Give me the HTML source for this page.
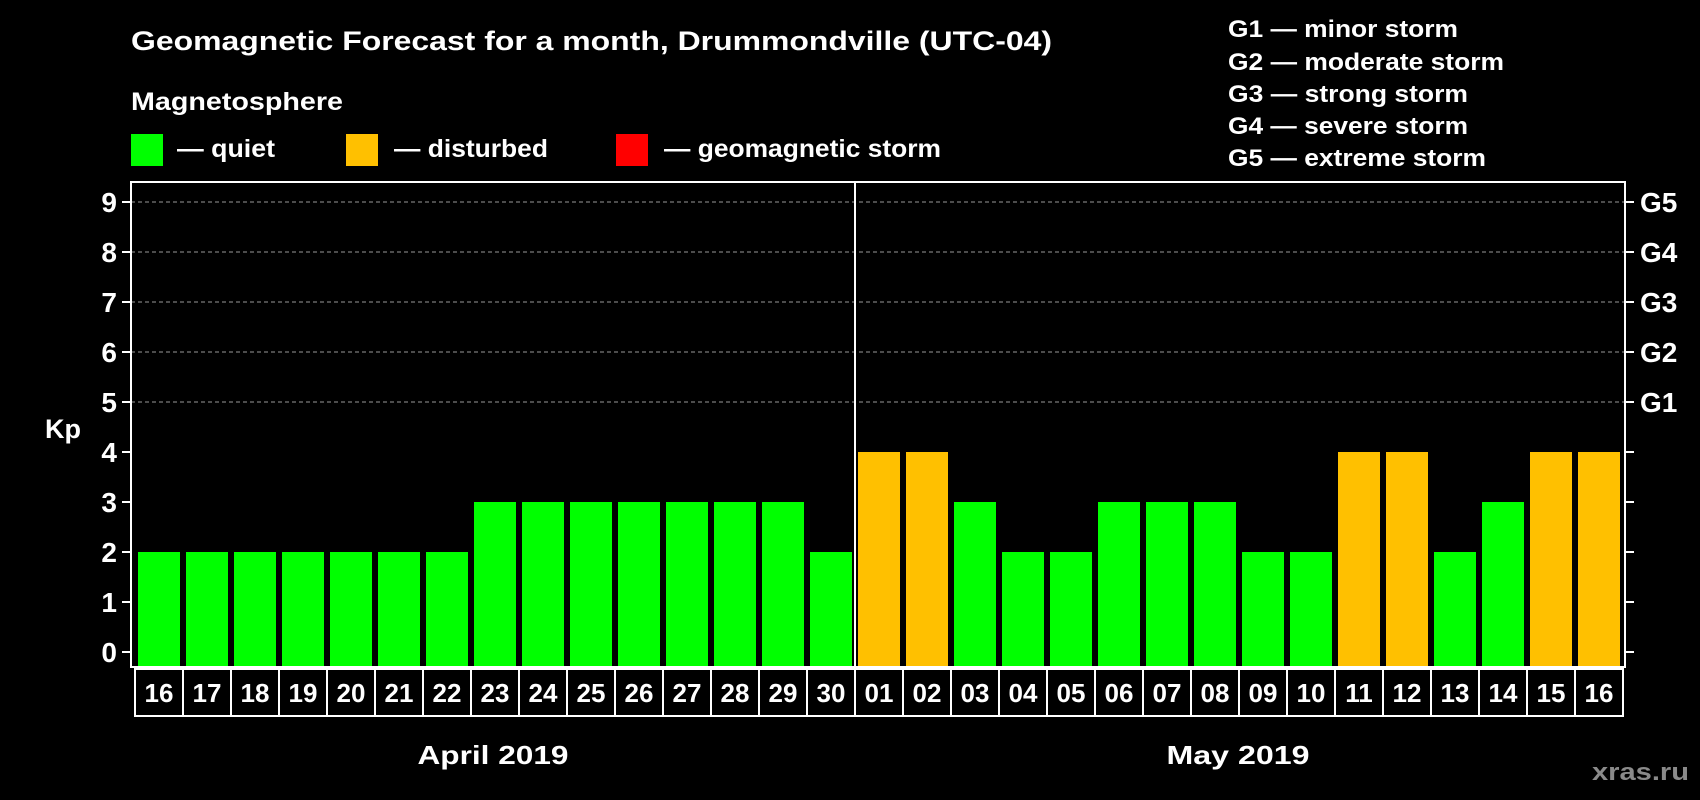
<!DOCTYPE html>
<html><head><meta charset="utf-8"><style>
html,body{margin:0;padding:0;background:#000;}
svg{display:block;font-family:"Liberation Sans",sans-serif;font-weight:bold;}
</style></head><body>
<svg id="chart" width="1700" height="800" viewBox="0 0 1700 800">
<rect x="0" y="0" width="1700" height="800" fill="#000"/>
<text x="131" y="50" font-size="27" fill="#fff" textLength="921" lengthAdjust="spacingAndGlyphs">Geomagnetic Forecast for a month, Drummondville (UTC-04)</text>
<text x="131" y="110" font-size="25" fill="#fff" textLength="212" lengthAdjust="spacingAndGlyphs">Magnetosphere</text>
<g>
<rect x="131" y="134" width="32" height="32" fill="#00ff00"/>
<text x="177" y="157" font-size="25" fill="#fff" textLength="98" lengthAdjust="spacingAndGlyphs">— quiet</text></g>
<g>
<rect x="346" y="134" width="32" height="32" fill="#ffc000"/>
<text x="394" y="157" font-size="25" fill="#fff" textLength="154" lengthAdjust="spacingAndGlyphs">— disturbed</text></g>
<g>
<rect x="616" y="134" width="32" height="32" fill="#ff0000"/>
<text x="664" y="157" font-size="25" fill="#fff" textLength="277" lengthAdjust="spacingAndGlyphs">— geomagnetic storm</text></g>
<g font-size="24" fill="#fff">
<text x="1228" y="37" textLength="230" lengthAdjust="spacingAndGlyphs">G1 — minor storm</text>
<text x="1228" y="70" textLength="276" lengthAdjust="spacingAndGlyphs">G2 — moderate storm</text>
<text x="1228" y="102" textLength="240" lengthAdjust="spacingAndGlyphs">G3 — strong storm</text>
<text x="1228" y="134" textLength="240" lengthAdjust="spacingAndGlyphs">G4 — severe storm</text>
<text x="1228" y="166" textLength="258" lengthAdjust="spacingAndGlyphs">G5 — extreme storm</text>
</g>
<text x="63" y="438" font-size="27" fill="#fff" text-anchor="middle">Kp</text>
<g id="grid"></g><g id="bars"></g><g id="axes"></g><g id="dates"></g>
<text x="493" y="764" font-size="26" fill="#fff" text-anchor="middle" textLength="151" lengthAdjust="spacingAndGlyphs">April 2019</text>
<text x="1238" y="764" font-size="26" fill="#fff" text-anchor="middle" textLength="143" lengthAdjust="spacingAndGlyphs">May 2019</text>
<text x="1689" y="780" font-size="24" fill="#8a8a8a" text-anchor="end" textLength="97" lengthAdjust="spacingAndGlyphs">xras.ru</text>
</svg>
<script>
const dayLabels = ["16","17","18","19","20","21","22","23","24","25","26","27","28","29","30","01","02","03","04","05","06","07","08","09","10","11","12","13","14","15","16"];
const kpValues = [2,2,2,2,2,2,2,3,3,3,3,3,3,3,2,4,4,3,2,2,3,3,3,2,2,4,4,2,3,4,4];
const yTicks = [0,1,2,3,4,5,6,7,8,9];
const gLabels = ["","","","","","G1","G2","G3","G4","G5"];
const monthSplitIndex = 15;

const NS = "http://www.w3.org/2000/svg";
const plotL = 131, plotR = 1625, plotT = 182, plotB = 667;
const y0 = 652, unit = 50;
const slot0 = 135, slotW = 48;
function yScale(v){ return y0 - v * unit; }
function xScale(i){ return slot0 + i * slotW; }
function mk(tag, attrs, parent){ const e = document.createElementNS(NS, tag); for (const k in attrs) e.setAttribute(k, attrs[k]); parent.appendChild(e); return e; }
const grid = document.getElementById('grid'), bars = document.getElementById('bars'), axes = document.getElementById('axes'), dates = document.getElementById('dates');

yTicks.forEach((t) => {
  const y = yScale(t);
  if (t >= 5) {
    const g = mk('line', {x1: plotL, x2: plotR, y1: y, y2: y, stroke: '#999', 'stroke-width': 1, 'stroke-dasharray': '4,3'}, grid);
    
    
  }
  const tl = mk('line', {x1: plotL - 9, x2: plotL, y1: y, y2: y, stroke: '#fff', 'stroke-width': 2}, axes);
  
  
  const tr = mk('line', {x1: plotR, x2: plotR + 9, y1: y, y2: y, stroke: '#fff', 'stroke-width': 2}, axes);
  
  
  const lab = mk('text', {x: 117, y: y + 10, 'font-size': 28, fill: '#fff', 'text-anchor': 'end'}, axes);
  lab.textContent = String(t);
  
  
  if (gLabels[t]) {
    const gl = mk('text', {x: 1640, y: y + 10, 'font-size': 28, fill: '#fff'}, axes);
    gl.textContent = gLabels[t];
    
    
  }
});

kpValues.forEach((v, i) => {
  const color = v >= 5 ? '#ff0000' : (v >= 4 ? '#ffc000' : '#00ff00');
  const top = yScale(v);
  const b = mk('rect', {x: xScale(i) + 3, y: top, width: 42, height: plotB - 1 - top, fill: color}, bars);
  
  
});

const frame = mk('rect', {x: plotL, y: plotT, width: plotR - plotL, height: plotB - plotT, fill: 'none', stroke: '#fff', 'stroke-width': 2}, axes);


const divX = xScale(monthSplitIndex);
const div = mk('line', {x1: divX, x2: divX, y1: plotT, y2: plotB, stroke: '#fff', 'stroke-width': 2}, axes);



dayLabels.forEach((d, i) => {
  const r = mk('rect', {x: xScale(i), y: 669, width: slotW, height: 47, fill: 'none', stroke: '#fff', 'stroke-width': 2}, dates);
  
  
  const t = mk('text', {x: xScale(i) + slotW / 2, y: 702, 'font-size': 26, fill: '#fff', 'text-anchor': 'middle'}, dates);
  t.textContent = d;
  
  
});
</script>
</body></html>
